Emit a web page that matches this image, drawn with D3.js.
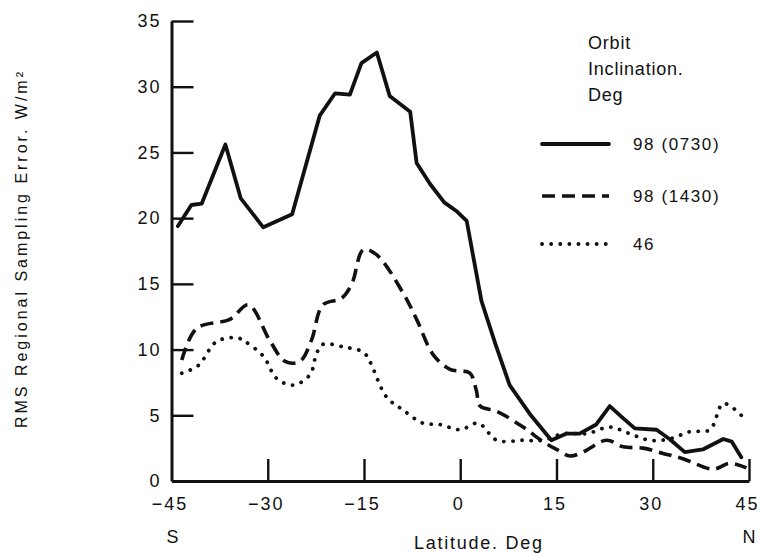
<!DOCTYPE html>
<html><head><meta charset="utf-8">
<script src="https://cdn.jsdelivr.net/npm/d3@7"></script>
<style>
body{margin:0;background:#fff;}
svg{display:block;}
text{font-family:"Liberation Sans",Arial,Helvetica,sans-serif;fill:#111;}
</style></head>
<body><svg id="chart" width="763" height="554"></svg>
<script>
// ---- data ----
const xTicks = [-45, -30, -15, 0, 15, 30, 45];
const xTickLabels = ["\u221245", "\u221230", "\u221215", "0", "15", "30", "45"];
const yTicks = [0, 5, 10, 15, 20, 25, 30, 35];
const yTickLabels = ["0", "5", "10", "15", "20", "25", "30", "35"];
const seriesNames = ["98 (0730)", "98 (1430)", "46"];
const legendTitle = ["Orbit", "Inclination.", "Deg"];
const xTitle = "Latitude. Deg";
const yTitle = "RMS Regional Sampling Error. W/m\u00B2";
const southLabel = "S", northLabel = "N";

const lat0730 = [-44.0,-41.9,-40.3,-36.6,-34.2,-30.7,-26.2,-21.9,-19.5,-17.2,-15.4,-13.0,-11.0,-7.8,-6.8,-4.7,-2.5,-0.5,1.0,3.3,5.5,7.7,11.0,14.2,16.5,18.6,21.2,23.3,25.1,27.2,30.6,32.6,35.0,37.8,41.0,42.3,43.8];
const val0730 = [19.4,21.0,21.1,25.6,21.5,19.3,20.3,27.8,29.5,29.4,31.8,32.6,29.3,28.1,24.2,22.6,21.2,20.5,19.8,13.7,10.4,7.3,5.0,3.1,3.6,3.6,4.3,5.7,4.9,4.0,3.9,3.2,2.2,2.4,3.2,3.0,1.8];

const lat1430 = [-43.4,-41.1,-35.9,-33.0,-29.7,-27.3,-25.0,-23.2,-21.4,-18.5,-16.9,-15.1,-13.0,-8.9,-6.8,-4.2,-1.6,1.5,2.5,3.1,5.7,9.8,12.9,15.0,17.1,19.1,22.8,25.4,28.5,31.6,34.7,39.4,42.0,44.6];
const val1430 = [9.2,11.6,12.3,13.4,10.7,9.1,9.1,10.7,13.4,13.9,15.0,17.6,17.2,14.3,12.3,9.6,8.5,8.2,6.9,5.7,5.3,4.1,3.0,2.4,1.9,2.2,3.1,2.6,2.5,2.1,1.7,0.9,1.35,1.0];

const lat46 = [-43.4,-40.8,-38.0,-34.8,-33.5,-30.7,-28.6,-26.0,-23.4,-22.4,-21.4,-18.2,-15.1,-14.1,-11.5,-8.9,-5.8,-3.2,0.0,2.8,5.7,9.8,12.9,16.0,19.7,23.3,26.4,29.5,32.6,35.8,38.9,41.0,43.8];
const val46 = [8.2,8.8,10.6,10.9,10.6,9.5,7.8,7.3,8.1,9.7,10.4,10.2,9.8,9.1,6.4,5.4,4.4,4.3,3.9,4.4,3.1,3.1,3.1,3.6,3.6,4.1,3.6,3.1,3.2,3.75,3.9,5.9,5.0];

// ---- layout ----
const svg = d3.select("#chart");
const x = d3.scaleLinear().domain([-45, 45]).range([171.5, 749]);
const y = d3.scaleLinear().domain([0, 35]).range([481, 21]);

const styles = [
  {dash: null, cap: "round", curve: d3.curveLinear, w: 3.8},
  {dash: "13,7", cap: "butt", curve: d3.curveCatmullRom, w: 3.6},
  {dash: "0.1,9", cap: "round", curve: d3.curveCatmullRom, w: 3.8}
];
const series = [
  d3.zip(lat0730, val0730),
  d3.zip(lat1430, val1430),
  d3.zip(lat46, val46)
];

// axes
const gx = svg.append("g").attr("transform", `translate(0,${y(0)})`)
  .call(d3.axisBottom(x).tickValues(xTicks).tickFormat((d,i)=>xTickLabels[i])
    .tickSize(-22).tickSizeOuter(0).tickPadding(16));
const gy = svg.append("g").attr("transform", `translate(${x(-45)},0)`)
  .call(d3.axisLeft(y).tickValues(yTicks).tickFormat((d,i)=>yTickLabels[i])
    .tickSize(-22).tickSizeOuter(0).tickPadding(10));
[gx, gy].forEach(g => {
  g.select(".domain").attr("stroke", "#111").attr("stroke-width", 3);
  g.selectAll(".tick line").attr("stroke", "#111").attr("stroke-width", 2.4);
  g.selectAll(".tick text").attr("font-size", 18).attr("letter-spacing", 2)
    .attr("fill", "#111").style("font-family", '"Liberation Sans",Arial,sans-serif');
});
gx.selectAll(".tick").filter(d => d === -45).select("line").remove();
gy.selectAll(".tick").filter(d => d === 0).select("line").remove();
gx.selectAll(".tick text").attr("dx", -2);

// lines
const line = d3.line().x(d => x(d[0])).y(d => y(d[1]));
series.forEach((s, i) => {
  svg.append("path").datum(s)
    .attr("d", line.curve(styles[i].curve))
    .attr("fill", "none").attr("stroke", "#111")
    .attr("stroke-width", styles[i].w)
    .attr("stroke-linejoin", "round")
    .attr("stroke-linecap", styles[i].cap)
    .attr("stroke-dasharray", styles[i].dash);
});

// legend
legendTitle.forEach((t, i) => {
  svg.append("text").attr("x", 588).attr("y", 49 + i * 26)
    .attr("font-size", 18).attr("letter-spacing", 0.8).text(t);
});
const legY = [144, 196, 244];
seriesNames.forEach((n, i) => {
  svg.append("line").attr("x1", 542).attr("x2", 609)
    .attr("y1", legY[i]).attr("y2", legY[i])
    .attr("stroke", "#111").attr("stroke-width", styles[i].w)
    .attr("stroke-linecap", styles[i].cap)
    .attr("stroke-dasharray", styles[i].dash);
  svg.append("text").attr("x", 633).attr("y", legY[i] + 6)
    .attr("font-size", 17).attr("letter-spacing", 1.6).text(n);
});

// axis titles
svg.append("text").attr("x", 478).attr("y", 549).attr("text-anchor", "middle")
  .attr("font-size", 18).attr("textLength", 128).attr("lengthAdjust", "spacing").text(xTitle);
svg.append("text").attr("x", x(-45) + 1).attr("y", 543).attr("text-anchor", "middle")
  .attr("font-size", 18).text(southLabel);
svg.append("text").attr("x", x(45)).attr("y", 543).attr("text-anchor", "middle")
  .attr("font-size", 18).text(northLabel);
svg.append("text").attr("transform", "translate(27,250) rotate(-90)")
  .attr("text-anchor", "middle").attr("font-size", 16)
  .attr("textLength", 356).attr("lengthAdjust", "spacing")
  .text(yTitle);
</script></body></html>
